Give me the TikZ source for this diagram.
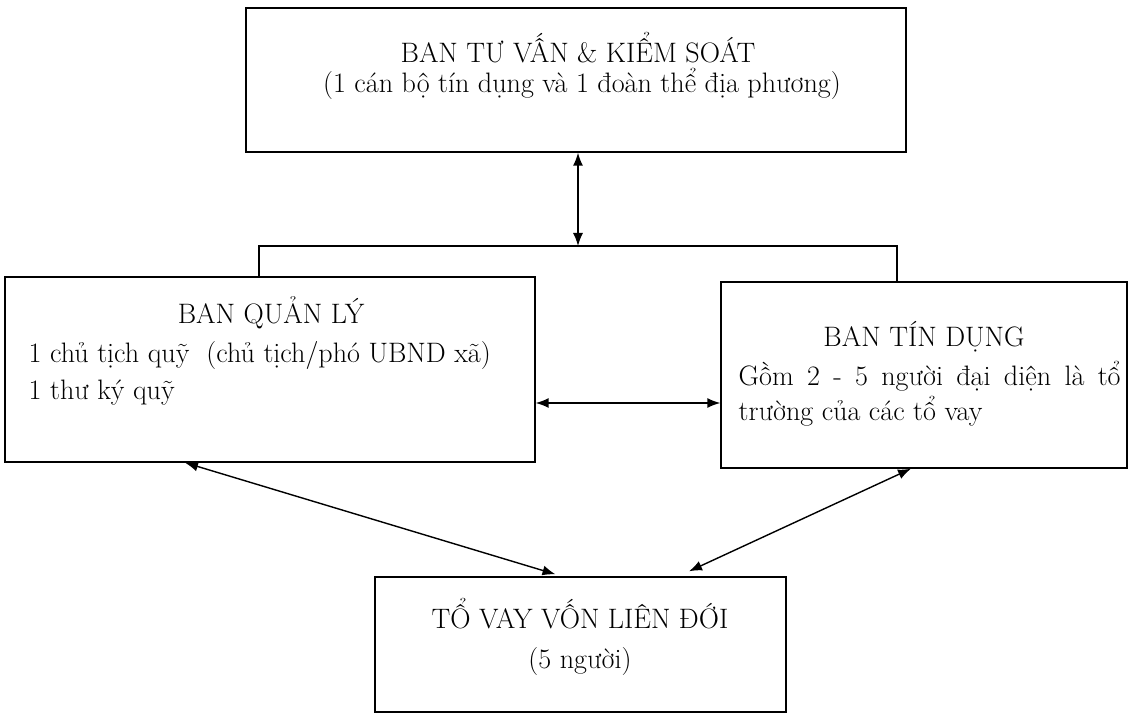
\documentclass[tikz,border=0pt]{standalone}
\usepackage{fontspec}
\usepackage{tikz}
\usetikzlibrary{arrows.meta}
\tikzset{
  khung/.style = {draw, thick, inner sep=0pt},
  chu/.style = {inner sep=0pt, font=\fontsize{16}{19}\selectfont}
}
\begin{document}
\begin{tikzpicture}[x=0.02cm, y=-0.02cm, >={Latex[length=2.6mm,width=2mm]}, thick]
\useasboundingbox (0,0) rectangle (1133,719);
%Ban tu van
\node[khung, minimum width=13.2cm, minimum height=2.88cm] (tv) at (576,80) {};
\node[chu] (tv1) at (578,48) {BAN TƯ VẤN \& KIỂM SOÁT};
\node[chu] (tv2) at (582,84) {(1 cán bộ tín dụng và 1 đoàn thể địa phương)};
%Ban quan ly
\node[khung, minimum width=10.6cm, minimum height=3.7cm] (ql) at (270,369.5) {};
\node[chu] (ql1) at (271,313) {BAN QUẢN LÝ};
\node[chu, anchor=west] (ql2) at (28,355) {1 chủ tịch quỹ~~(chủ tịch/phó UBND xã)};
\node[chu, anchor=west] (ql3) at (28,393) {1 thư ký quỹ};
%Ban tin dung
\node[khung, minimum width=8.12cm, minimum height=3.72cm] (td) at (924,375) {};
\node[chu] (td1) at (924,337) {BAN TÍN DỤNG};
\node[chu, anchor=west] (td2) at (738,376) {\makebox[7.64cm][s]{Gồm 2 - 5 người đại diện là tổ}};
\node[chu, anchor=west] (td3) at (738,411) {trường của các tổ vay};
%To vay von
\node[khung, minimum width=8.22cm, minimum height=2.7cm] (to) at (580.5,644.5) {};
\node[chu] (to1) at (580,614) {TỔ VAY VỐN LIÊN ĐỚI};
\node[chu] (to2) at (580,661) {(5 người)};
%Noi
\coordinate (jt) at (578,246);
\coordinate (jl) at (259,246);
\coordinate (jr) at (897,246);
\coordinate (ngang) at (0,403);
\draw[<->] (tv.south -| jt) -- (jt);
\draw (jl |- ql.north) -- (jl) -- (jr) -- (jr |- td.north);
\draw[<->] (ql.east |- ngang) -- (td.west |- ngang);
\draw[<->] ([xshift=-1.7cm]ql.south) -- ([xshift=-0.5cm,yshift=0.04cm]to.north);
\draw[<->] ([xshift=-0.26cm]td.south) -- ([xshift=2.17cm,yshift=0.1cm]to.north);
\end{tikzpicture}
\end{document}
